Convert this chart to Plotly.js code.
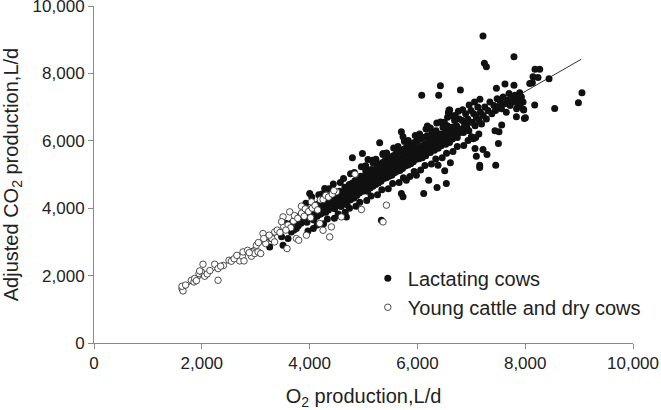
<!DOCTYPE html>
<html>
<head>
<meta charset="utf-8">
<script src="https://cdn.plot.ly/plotly-3.0.1.min.js"></script>
<style>
html,body{margin:0;padding:0;background:#fff;}
#chart{width:661px;height:410px;}
</style>
</head>
<body>
<div id="chart"></div>
<script>
// Lactating cows: [O2 production, adjusted CO2 production] (L/d)
const lactating = [
[3260,2851],[3291,3099],[3507,2901],[3600,3099],[3662,3297],[3569,3546],[3755,3398],[3817,3644],[4002,4436],[4280,4585],[4683,3742],[5332,3644],
[3420,3300],[3480,3150],[3550,3520],
[3620,3380],[3670,3560],[3710,3350],[3760,3700],[3790,3480],
[3810,3760],[3840,3550],[3860,3820],[3890,3640],[3920,3900],[3950,3580],[3970,3760],[3990,3950],
[4010,3700],[4030,3880],[4060,4010],[4080,3650],[4100,3880],[4120,4100],[4140,3760],[4160,3950],[4180,4150],[4195,3820],
[4210,4050],[4225,3850],[4240,4220],[4260,3980],[4280,4120],[4300,3880],[4320,4300],[4335,4050],[4350,3950],[4370,4180],[4385,4380],[4395,4020],
[4405,4250],[4420,4050],[4435,4350],[4450,4150],[4465,3980],[4480,4300],[4495,4450],[4510,4180],[4525,4080],[4540,4320],[4555,4500],[4570,4220],[4585,4050],[4595,4380],
[4605,4300],[4615,4480],[4630,4150],[4645,4400],[4655,4620],[4670,4250],[4685,4450],[4695,4100],[4710,4550],[4720,4350],[4735,4700],[4750,4420],[4760,4250],[4775,4580],[4785,4400],[4795,4750],
[4805,4480],[4815,4650],[4825,4300],[4835,4560],[4845,4820],[4855,4450],[4865,4680],[4875,4380],[4885,4590],[4895,4900],[4905,4520],[4915,4750],[4925,4450],[4940,4640],[4950,4950],[4960,4580],[4975,4800],[4990,4500],
[5005,4720],[5015,4900],[5025,4560],[5035,4800],[5045,5050],[5055,4650],[5065,4880],[5075,4500],[5085,4750],[5095,5000],[5105,4700],[5115,4920],[5125,4600],[5135,4850],[5145,5150],[5155,4780],[5165,4950],[5175,4650],[5185,4880],[5195,5100],
[5205,4850],[5215,5050],[5225,4700],[5235,4960],[5245,5250],[5255,4820],[5265,5080],[5275,4750],[5285,5000],[5295,5300],[5305,4900],[5315,5150],[5325,4800],[5335,5050],[5345,5350],[5355,4950],[5365,5200],[5375,4880],[5385,5100],[5395,5400],
[5405,5050],[5415,5250],[5425,4900],[5435,5150],[5445,5450],[5455,5000],[5465,5280],[5475,4950],[5485,5200],[5495,5500],[5505,5100],[5515,5320],[5525,4980],[5535,5230],[5545,5550],[5555,5150],[5565,5380],[5575,5050],[5585,5280],[5595,5600],
[5605,5230],[5615,5430],[5625,5100],[5635,5350],[5645,5650],[5655,5200],[5665,5450],[5675,5120],[5685,5380],[5695,5700],[5705,5300],[5715,5500],[5725,5180],[5735,5420],[5745,5750],[5755,5350],[5765,5580],[5775,5250],[5785,5480],[5795,5800],
[5805,5420],[5815,5620],[5825,5280],[5835,5530],[5845,5850],[5855,5400],[5865,5650],[5875,5320],[5885,5570],[5895,5900],[5905,5500],[5915,5720],[5925,5380],[5935,5620],[5945,5950],[5955,5520],[5965,5780],[5975,5450],[5985,5680],[5995,6000],
[6005,5600],[6015,5800],[6030,5470],[6040,5720],[6055,6050],[6065,5580],[6080,5850],[6090,5500],[6105,5760],[6115,6100],[6130,5680],[6140,5900],[6155,5560],[6165,5820],[6180,6150],[6190,5720],[6195,5950],[6175,5650],
[6210,5780],[6225,6000],[6240,5650],[6255,5900],[6270,6250],[6285,5800],[6300,6050],[6315,5720],[6330,5980],[6345,6300],[6360,5880],[6375,6120],[6385,5780],[6395,6020],[6250,6150],[6320,6200],
[6410,5950],[6425,6200],[6440,5850],[6460,6100],[6475,6400],[6490,6000],[6510,6250],[6525,5900],[6540,6150],[6555,6450],[6570,6050],[6585,6300],[6595,5950],[6500,6550],
[6615,6150],[6635,6400],[6650,6050],[6670,6300],[6690,6600],[6705,6200],[6725,6450],[6740,6100],[6760,6350],[6775,6650],[6790,6250],[6700,6750],
[6815,6350],[6835,6600],[6855,6250],[6875,6500],[6895,6800],[6915,6400],[6935,6650],[6955,6300],[6975,6550],[6995,6900],
[7020,6550],[7045,6800],[7070,6450],[7095,6700],[7120,7000],[7145,6600],[7170,6850],[7190,6500],
[7220,6750],[7250,7000],[7280,6650],[7310,6900],[7345,7150],[7380,6800],
[3930,4150],[4040,4330],[4170,4400],[4230,4420],[4360,4580],[4440,4720],[4570,4760],[4630,4880],[4760,5020],[4830,5060],[4960,5230],[5040,5260],[5170,5420],[5230,5450],[5360,5590],[5430,5640],[5560,5790],[5640,5830],[5760,5980],[5830,6010],[5960,6160],[6040,6200],[6160,6350],[6240,6380],[6360,6530],[6430,6560],[6560,6700],[6640,6740],[6760,6880],[6840,6920],[6960,7060],[7060,7150],[7160,7230],
[3970,3320],[4070,3400],[4140,3500],[4260,3540],[4330,3680],[4460,3700],[4530,3830],[4660,3880],[4740,4000],[4860,4060],[4930,4180],[5060,4230],[5140,4360],[5260,4400],[5340,4550],[5460,4580],[5540,4730],[5660,4760],[5740,4900],[5860,4940],[5940,5090],[6060,5130],[6140,5270],[6260,5310],[6340,5460],[6460,5500],[6540,5630],[6660,5680],[6740,5830],[6860,5860],[6940,6010],[7040,6060],[7140,6200],
[7420,7050],[7450,6900],[7480,7250],[7510,7000],[7540,7150],[7560,6950],[7590,7300],[7620,7100],[7650,6850],[7680,7200],[7700,7400],[7720,7050],[7750,7250],[7780,7150],[7810,7350],[7840,6950],[7870,7200],[7900,7050],[7930,7300],[7960,7150],
[6080,7348],[6395,7348],[6427,7633],[6798,7505],[7217,9109],[7243,8298],[7280,8198],[7792,8494],[6586,6911],[6575,6831],
[7156,5278],[7156,5209],[7453,5278],[7291,5595],[7094,5545],[7069,5774],[7217,5744],[7503,5922],[7440,6297],[7514,6267],[7564,6466],[7001,6119],[7082,6100],[7985,6665],[7837,6713],[7966,6933],[8176,7060],[8547,6962],[8987,7128],[9053,7425],
[8442,7841],[8182,8120],[8269,8120],[8145,7900],[8238,7882],[8084,7704],[8133,7723],[7792,7645],[7625,7684],[7466,7556],[7898,7425],[7867,7306],[7867,7030],[7972,6911],[8004,6683],
[6537,4734],[6364,4616],[6117,4437],[6210,4832],[6507,5109],[6383,5278],[6612,5346],[5703,4437],[5733,4337],[5795,4832],[5981,4981],[5300,5940],[4980,5625],[4794,5495],[5703,6267],[5733,6119],[6185,6436],[6599,6911],
[5084,5447],[5176,5346],[5362,5625],[5040,5150]
];

// Young cattle and dry cows: [O2 production, adjusted CO2 production] (L/d)
const young = [
[1633,1616],[1651,1545],[1633,1684],[1807,1862],[1855,1812],[1868,1913],[1948,2059],[1993,2109],[1961,2138],[2022,2337],[2054,1981],[2239,2337],[2301,2208],[2301,1862],[2505,2456],[2549,2426],[2703,2436],[2753,2575],[2783,2436],[2765,2703],[2920,2575],[2950,2703],[2981,2654],[3013,2901],[3043,2703],[3093,2654],[3136,3247],[3186,2950],
[3353,3297],[3507,3742],[3631,3891],[3755,3099],[3581,2802],[3798,3050],[3941,3199],[3848,4060],[4033,4188],[4249,3346],[4373,3148],[4404,3445],[4373,4386],[4497,4485],[4961,3962],[5425,4090],[5362,3594],[4590,3742],[4188,3546],[4842,5011],
[3400,3350],[3450,3280],[3520,3450],[3600,3500],[3650,3420],[3700,3620],[3720,3780],[3780,3700],[3850,3850],[3900,3760],[3920,3980],[3980,3900],[4050,4000],[4100,4080],[4150,3950],[4200,4250],[4250,4260],[4300,4380],[4350,4330],[4420,4420],[4450,4520],
[2400,2300],[2600,2500],[2850,2750],[3300,3100],[3350,3000],[3250,3200],[2350,2280],[2100,2050],[1700,1720],[1900,1850],[2150,2150],[2650,2600],[2880,2680],[3050,2980],[3150,3100],[3480,3600],[3560,3350],[4020,3720]
];

// Fitted regression line end points
const fitX = [1600, 9040];
const fitY = [1590, 8420];

const seriesNames = ['Lactating cows', 'Young cattle and dry cows'];
const tickVals = [0, 2000, 4000, 6000, 8000, 10000];

const font = 'Liberation Sans, Arial, sans-serif';

const traces = [
  {x: fitX, y: fitY, mode: 'lines', line: {color: '#333', width: 1}, showlegend: false, hoverinfo: 'skip'},
  {x: lactating.map(p => p[0]), y: lactating.map(p => p[1]), mode: 'markers', name: seriesNames[0],
   marker: {symbol: 'circle', size: 7, color: '#111', line: {width: 0}}},
  {x: young.map(p => p[0]), y: young.map(p => p[1]), mode: 'markers', name: seriesNames[1],
   marker: {symbol: 'circle', size: 6.5, color: '#fff', line: {color: '#222', width: 0.8}}}
];

const axisCommon = {
  range: [0, 10000], tickvals: tickVals, tickformat: ',', showgrid: false, zeroline: false,
  showline: true, linecolor: '#8a8a8a', linewidth: 1, ticks: 'outside', ticklen: 5, tickwidth: 1, tickcolor: '#8a8a8a',
  tickfont: {family: font, size: 17, color: '#222'}, ticklabeloverflow: 'allow', fixedrange: true
};

const layout = {
  width: 661, height: 410,
  margin: {l: 94, r: 28, t: 6, b: 67},
  paper_bgcolor: '#fff', plot_bgcolor: '#fff',
  showlegend: true,
  legend: {x: 0.508, xanchor: 'left', y: 0.25, yanchor: 'top', font: {family: font, size: 20, color: '#222'}, bgcolor: 'rgba(0,0,0,0)', borderwidth: 0},
  xaxis: Object.assign({}, axisCommon, {title: {text: 'O<sub>2</sub> production,L/d', font: {family: font, size: 20, color: '#222'}, standoff: 17}}),
  yaxis: Object.assign({}, axisCommon, {title: {text: 'Adjusted CO<sub>2</sub> production,L/d', font: {family: font, size: 20, color: '#222'}, standoff: 15}})
};

Plotly.newPlot('chart', traces, layout, {displayModeBar: false, staticPlot: true});
</script>
</body>
</html>
